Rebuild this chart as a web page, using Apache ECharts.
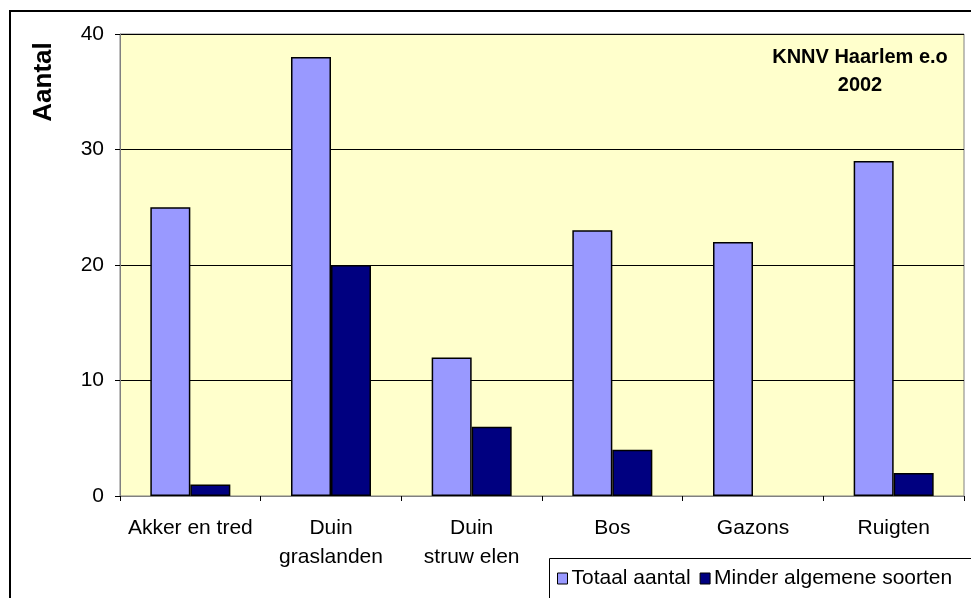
<!DOCTYPE html>
<html>
<head>
<meta charset="utf-8">
<script src="https://cdn.jsdelivr.net/npm/echarts@6/dist/echarts.min.js"></script>
<style>html,body{margin:0;padding:0;background:#fff;}#c{width:971px;height:598px;}</style>
</head>
<body>
<div id="c"></div>
<script>
const categories = ['Akker en tred', 'Duin\ngraslanden', 'Duin\nstruw elen', 'Bos', 'Gazons', 'Ruigten'];
const totaal = [25, 38, 12, 23, 22, 29];
const minder = [1, 20, 6, 4, 0, 2];
const yTicks = [0, 10, 20, 30, 40];
const seriesNames = ['Totaal aantal', 'Minder algemene soorten'];

const FONT = '"Liberation Sans", Arial, sans-serif';
function toBarData(arr) {
  return arr.map(v => v === 0 ? {value: v, itemStyle: {borderWidth: 0}} : v);
}
const chart = echarts.init(document.getElementById('c'), null, {renderer: 'canvas'});
chart.setOption({
  backgroundColor: '#ffffff',
  animation: false,
  title: {
    text: 'KNNV Haarlem e.o\n2002',
    left: 855, top: 38, textAlign: 'center',
    textStyle: {fontFamily: FONT, fontSize: 20, fontWeight: 'bold', color: '#000', lineHeight: 28}
  },
  legend: {
    data: seriesNames,
    left: 557, top: 568,
    icon: 'rect',
    itemWidth: 10, itemHeight: 11, itemGap: 9,
    padding: 0,
    itemStyle: {borderColor: '#000', borderWidth: 1},
    textStyle: {fontFamily: FONT, fontSize: 21, color: '#000', padding: [0, 0, 0, -1]}
  },
  graphic: [
    {type: 'rect', shape: {x: 10, y: 11, width: 990, height: 620}, style: {fill: 'none', stroke: '#000', lineWidth: 2}, z: -10, silent: true},
    {type: 'rect', shape: {x: 549.5, y: 558.5, width: 460, height: 60}, style: {fill: '#fff', stroke: '#000', lineWidth: 1}, z: 0, silent: true},
    {type: 'text', x: 44, y: 82, rotation: Math.PI / 2,
     style: {text: 'Aantal', fontFamily: FONT, fontSize: 26, fontWeight: 'bold', fill: '#000', textAlign: 'center', textVerticalAlign: 'middle'}}
  ],
  grid: {
    left: 120, right: 7, top: 34, bottom: 102,
    show: true, backgroundColor: '#FFFFCC', borderColor: '#808080', borderWidth: 1
  },
  xAxis: {
    type: 'category',
    data: categories,
    axisLine: {lineStyle: {color: '#808080', width: 1}},
    axisTick: {show: true, length: 5, lineStyle: {color: '#000'}},
    axisLabel: {fontFamily: FONT, fontSize: 21, color: '#000', lineHeight: 29, margin: 18, interval: 0}
  },
  yAxis: {
    type: 'value',
    min: yTicks[0], max: yTicks[yTicks.length - 1], interval: 10,
    axisLine: {show: true, lineStyle: {color: '#808080', width: 1}},
    axisTick: {show: true, length: 5, lineStyle: {color: '#000'}},
    axisLabel: {fontFamily: FONT, fontSize: 21, color: '#000', margin: 16},
    splitLine: {show: true, lineStyle: {color: '#000', width: 1}}
  },
  series: [
    {name: seriesNames[0], type: 'bar', data: toBarData(totaal), barWidth: 40, barGap: '0%',
     itemStyle: {color: '#9999FF', borderColor: '#000', borderWidth: 1.5}},
    {name: seriesNames[1], type: 'bar', data: toBarData(minder), barWidth: 40, barGap: '0%',
     itemStyle: {color: '#000080', borderColor: '#000', borderWidth: 1.5}}
  ]
});
</script>
</body>
</html>
